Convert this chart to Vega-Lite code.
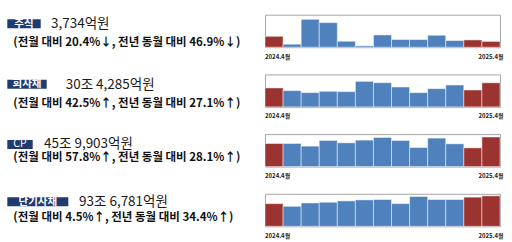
{
  "$schema": "https://vega.github.io/schema/vega-lite/v6.json",
  "padding": {"left": 7.3, "top": 13.7, "right": 0, "bottom": 0},
  "background": "white",
  "config": {
    "view": {"stroke": null},
    "font": "Noto Sans CJK KR",
    "text": {"font": "Noto Sans CJK KR"},
    "axis": {"labelFont": "Noto Sans CJK KR"}
  },
  "datasets": {
    "summary": [
      {"series": "주식", "amount": "3,734억원", "change": "(전월 대비 20.4%↓, 전년 동월 대비 46.9%↓)"},
      {"series": "회사채", "amount": "30조 4,285억원", "change": "(전월 대비 42.5%↑, 전년 동월 대비 27.1%↑)"},
      {"series": "CP", "amount": "45조 9,903억원", "change": "(전월 대비 57.8%↑, 전년 동월 대비 28.1%↑)"},
      {"series": "단기사채", "amount": "93조 6,781억원", "change": "(전월 대비 4.5%↑, 전년 동월 대비 34.4%↑)"}
    ],
    "bars": [
      {"series": "주식", "month": "2024.4", "value": 7032, "compare": "yes"},
      {"series": "주식", "month": "2024.5", "value": 1930, "compare": "no"},
      {"series": "주식", "month": "2024.6", "value": 18000, "compare": "no"},
      {"series": "주식", "month": "2024.7", "value": 15860, "compare": "no"},
      {"series": "주식", "month": "2024.8", "value": 3860, "compare": "no"},
      {"series": "주식", "month": "2024.9", "value": 860, "compare": "no"},
      {"series": "주식", "month": "2024.10", "value": 7930, "compare": "no"},
      {"series": "주식", "month": "2024.11", "value": 4930, "compare": "no"},
      {"series": "주식", "month": "2024.12", "value": 4930, "compare": "no"},
      {"series": "주식", "month": "2025.1", "value": 7710, "compare": "no"},
      {"series": "주식", "month": "2025.2", "value": 4290, "compare": "no"},
      {"series": "주식", "month": "2025.3", "value": 4691, "compare": "yes"},
      {"series": "주식", "month": "2025.4", "value": 3734, "compare": "yes"},
      {"series": "회사채", "month": "2024.4", "value": 239406, "compare": "yes"},
      {"series": "회사채", "month": "2024.5", "value": 205000, "compare": "no"},
      {"series": "회사채", "month": "2024.6", "value": 179900, "compare": "no"},
      {"series": "회사채", "month": "2024.7", "value": 196600, "compare": "no"},
      {"series": "회사채", "month": "2024.8", "value": 192400, "compare": "no"},
      {"series": "회사채", "month": "2024.9", "value": 322100, "compare": "no"},
      {"series": "회사채", "month": "2024.10", "value": 305400, "compare": "no"},
      {"series": "회사채", "month": "2024.11", "value": 251000, "compare": "no"},
      {"series": "회사채", "month": "2024.12", "value": 179900, "compare": "no"},
      {"series": "회사채", "month": "2025.1", "value": 230100, "compare": "no"},
      {"series": "회사채", "month": "2025.2", "value": 276100, "compare": "no"},
      {"series": "회사채", "month": "2025.3", "value": 213533, "compare": "yes"},
      {"series": "회사채", "month": "2025.4", "value": 304285, "compare": "yes"},
      {"series": "CP", "month": "2024.4", "value": 359019, "compare": "yes"},
      {"series": "CP", "month": "2024.5", "value": 359200, "compare": "no"},
      {"series": "CP", "month": "2024.6", "value": 317600, "compare": "no"},
      {"series": "CP", "month": "2024.7", "value": 406100, "compare": "no"},
      {"series": "CP", "month": "2024.8", "value": 369600, "compare": "no"},
      {"series": "CP", "month": "2024.9", "value": 411300, "compare": "no"},
      {"series": "CP", "month": "2024.10", "value": 452900, "compare": "no"},
      {"series": "CP", "month": "2024.11", "value": 406100, "compare": "no"},
      {"series": "CP", "month": "2024.12", "value": 296700, "compare": "no"},
      {"series": "CP", "month": "2025.1", "value": 442500, "compare": "no"},
      {"series": "CP", "month": "2025.2", "value": 354000, "compare": "no"},
      {"series": "CP", "month": "2025.3", "value": 291447, "compare": "yes"},
      {"series": "CP", "month": "2025.4", "value": 459903, "compare": "yes"},
      {"series": "단기사채", "month": "2024.4", "value": 697010, "compare": "yes"},
      {"series": "단기사채", "month": "2024.5", "value": 614600, "compare": "no"},
      {"series": "단기사채", "month": "2024.6", "value": 718800, "compare": "no"},
      {"series": "단기사채", "month": "2024.7", "value": 739600, "compare": "no"},
      {"series": "단기사채", "month": "2024.8", "value": 781300, "compare": "no"},
      {"series": "단기사채", "month": "2024.9", "value": 812500, "compare": "no"},
      {"series": "단기사채", "month": "2024.10", "value": 822900, "compare": "no"},
      {"series": "단기사채", "month": "2024.11", "value": 697900, "compare": "no"},
      {"series": "단기사채", "month": "2024.12", "value": 916700, "compare": "no"},
      {"series": "단기사채", "month": "2025.1", "value": 822900, "compare": "no"},
      {"series": "단기사채", "month": "2025.2", "value": 822900, "compare": "no"},
      {"series": "단기사채", "month": "2025.3", "value": 896441, "compare": "yes"},
      {"series": "단기사채", "month": "2025.4", "value": 936781, "compare": "yes"}
    ]
  },
  "columns": 2,
  "bounds": "flush",
  "align": "each",
  "spacing": {"row": 26.7, "column": 196.7},
  "concat": [
    {
      "width": 33.4, "height": 18.2,
      "data": {"name": "summary"},
      "transform": [{"filter": "datum.series === '주식'"}],
      "layer": [
        {"mark": {"type": "point", "shape": "M-1,-0.2695L1,-0.2695L1,0.2695L-1,0.2695Z", "size": 1115.56, "filled": true, "color": "#203B70", "opacity": 1, "strokeWidth": 0}, "encoding": {}},
        {"mark": {"type": "text", "color": "white", "fontWeight": "bold", "fontSize": 10.5, "align": "center", "baseline": "middle"}, "encoding": {"text": {"field": "series"}}},
        {"mark": {"type": "text", "color": "#1a1a1a", "fontSize": 13.5, "align": "left", "baseline": "middle", "dx": 27.0, "dy": 0.5}, "encoding": {"text": {"field": "amount"}}},
        {"mark": {"type": "text", "color": "#111", "fontSize": 11.5, "fontWeight": "bold", "align": "left", "baseline": "middle", "dx": -10.7, "dy": 19.0}, "encoding": {"text": {"field": "change"}}}
      ]
    },
    {
      "width": 235, "height": 32.5,
      "view": {"stroke": "#a6a6a6", "strokeWidth": 1},
      "data": {"name": "bars"},
      "transform": [{"filter": "datum.series === '주식'"}],
      "mark": {"type": "bar", "stroke": "#ffffff", "strokeWidth": 0.8, "strokeOpacity": 0.6},
      "encoding": {
        "x": {"field": "month", "type": "ordinal", "sort": null,
              "scale": {"paddingInner": 0, "paddingOuter": 0},
              "axis": {"values": ["2024.4", "2025.4"], "labelExpr": "datum.label + '월'", "title": null,
                       "ticks": false, "tickSize": 0, "domain": false, "labelAngle": 0,
                       "labelFontSize": 6, "labelFontWeight": "bold", "labelColor": "#222",
                       "labelPadding": 6, "labelFlush": 10, "labelFlushOffset": 9}},
        "y": {"field": "value", "type": "quantitative", "scale": {"domain": [0, 21000], "nice": false}, "axis": null},
        "color": {"field": "compare", "type": "nominal", "scale": {"domain": ["yes", "no"], "range": ["#9B3430", "#4F81BD"]}, "legend": null}
      }
    },
    {
      "width": 39.4, "height": 19.8,
      "data": {"name": "summary"},
      "transform": [{"filter": "datum.series === '회사채'"}],
      "layer": [
        {"mark": {"type": "point", "shape": "M-1,-0.2284L1,-0.2284L1,0.2284L-1,0.2284Z", "size": 1552.36, "filled": true, "color": "#203B70", "opacity": 1, "strokeWidth": 0}, "encoding": {}},
        {"mark": {"type": "text", "color": "white", "fontWeight": "bold", "fontSize": 10.5, "align": "center", "baseline": "middle"}, "encoding": {"text": {"field": "series"}}},
        {"mark": {"type": "text", "color": "#1a1a1a", "fontSize": 13.5, "align": "left", "baseline": "middle", "dx": 38.7, "dy": 0.5}, "encoding": {"text": {"field": "amount"}}},
        {"mark": {"type": "text", "color": "#111", "fontSize": 11.5, "fontWeight": "bold", "align": "left", "baseline": "middle", "dx": -13.7, "dy": 19.7}, "encoding": {"text": {"field": "change"}}}
      ]
    },
    {
      "width": 235, "height": 32.5,
      "view": {"stroke": "#a6a6a6", "strokeWidth": 1},
      "data": {"name": "bars"},
      "transform": [{"filter": "datum.series === '회사채'"}],
      "mark": {"type": "bar", "stroke": "#ffffff", "strokeWidth": 0.8, "strokeOpacity": 0.6},
      "encoding": {
        "x": {"field": "month", "type": "ordinal", "sort": null,
              "scale": {"paddingInner": 0, "paddingOuter": 0},
              "axis": {"values": ["2024.4", "2025.4"], "labelExpr": "datum.label + '월'", "title": null,
                       "ticks": false, "tickSize": 0, "domain": false, "labelAngle": 0,
                       "labelFontSize": 6, "labelFontWeight": "bold", "labelColor": "#222",
                       "labelPadding": 6, "labelFlush": 10, "labelFlushOffset": 9}},
        "y": {"field": "value", "type": "quantitative", "scale": {"domain": [0, 410000], "nice": false}, "axis": null},
        "color": {"field": "compare", "type": "nominal", "scale": {"domain": ["yes", "no"], "range": ["#9B3430", "#4F81BD"]}, "legend": null}
      }
    },
    {
      "width": 25.4, "height": 20.8,
      "data": {"name": "summary"},
      "transform": [{"filter": "datum.series === 'CP'"}],
      "layer": [
        {"mark": {"type": "point", "shape": "M-1,-0.3543L1,-0.3543L1,0.3543L-1,0.3543Z", "size": 645.16, "filled": true, "color": "#203B70", "opacity": 1, "strokeWidth": 0}, "encoding": {}},
        {"mark": {"type": "text", "color": "white", "fontWeight": "normal", "fontSize": 10.5, "align": "center", "baseline": "middle"}, "encoding": {"text": {"field": "series"}}},
        {"mark": {"type": "text", "color": "#1a1a1a", "fontSize": 13.5, "align": "left", "baseline": "middle", "dx": 24.0, "dy": 0}, "encoding": {"text": {"field": "amount"}}},
        {"mark": {"type": "text", "color": "#111", "fontSize": 11.5, "fontWeight": "bold", "align": "left", "baseline": "middle", "dx": -6.7, "dy": 13.4}, "encoding": {"text": {"field": "change"}}}
      ]
    },
    {
      "width": 235, "height": 32.5,
      "view": {"stroke": "#a6a6a6", "strokeWidth": 1},
      "data": {"name": "bars"},
      "transform": [{"filter": "datum.series === 'CP'"}],
      "mark": {"type": "bar", "stroke": "#ffffff", "strokeWidth": 0.8, "strokeOpacity": 0.6},
      "encoding": {
        "x": {"field": "month", "type": "ordinal", "sort": null,
              "scale": {"paddingInner": 0, "paddingOuter": 0},
              "axis": {"values": ["2024.4", "2025.4"], "labelExpr": "datum.label + '월'", "title": null,
                       "ticks": false, "tickSize": 0, "domain": false, "labelAngle": 0,
                       "labelFontSize": 6, "labelFontWeight": "bold", "labelColor": "#222",
                       "labelPadding": 6, "labelFlush": 10, "labelFlushOffset": 9}},
        "y": {"field": "value", "type": "quantitative", "scale": {"domain": [0, 505000], "nice": false}, "axis": null},
        "color": {"field": "compare", "type": "nominal", "scale": {"domain": ["yes", "no"], "range": ["#9B3430", "#4F81BD"]}, "legend": null}
      }
    },
    {
      "width": 61, "height": 15.8,
      "data": {"name": "summary"},
      "transform": [{"filter": "datum.series === '단기사채'"}],
      "layer": [
        {"mark": {"type": "point", "shape": "M-1,-0.1475L1,-0.1475L1,0.1475L-1,0.1475Z", "size": 3721, "filled": true, "color": "#203B70", "opacity": 1, "strokeWidth": 0}, "encoding": {}},
        {"mark": {"type": "text", "color": "white", "fontWeight": "bold", "fontSize": 10.5, "align": "center", "baseline": "middle"}, "encoding": {"text": {"field": "series"}}},
        {"mark": {"type": "text", "color": "#1a1a1a", "fontSize": 13.5, "align": "left", "baseline": "middle", "dx": 41.2, "dy": 0.3}, "encoding": {"text": {"field": "amount"}}},
        {"mark": {"type": "text", "color": "#111", "fontSize": 11.5, "fontWeight": "bold", "align": "left", "baseline": "middle", "dx": -24.5, "dy": 16.3}, "encoding": {"text": {"field": "change"}}}
      ]
    },
    {
      "width": 235, "height": 32.5,
      "view": {"stroke": "#a6a6a6", "strokeWidth": 1},
      "data": {"name": "bars"},
      "transform": [{"filter": "datum.series === '단기사채'"}],
      "mark": {"type": "bar", "stroke": "#ffffff", "strokeWidth": 0.8, "strokeOpacity": 0.6},
      "encoding": {
        "x": {"field": "month", "type": "ordinal", "sort": null,
              "scale": {"paddingInner": 0, "paddingOuter": 0},
              "axis": {"values": ["2024.4", "2025.4"], "labelExpr": "datum.label + '월'", "title": null,
                       "ticks": false, "tickSize": 0, "domain": false, "labelAngle": 0,
                       "labelFontSize": 6, "labelFontWeight": "bold", "labelColor": "#222",
                       "labelPadding": 6, "labelFlush": 10, "labelFlushOffset": 9}},
        "y": {"field": "value", "type": "quantitative", "scale": {"domain": [0, 1000000], "nice": false}, "axis": null},
        "color": {"field": "compare", "type": "nominal", "scale": {"domain": ["yes", "no"], "range": ["#9B3430", "#4F81BD"]}, "legend": null}
      }
    }
  ]
}
